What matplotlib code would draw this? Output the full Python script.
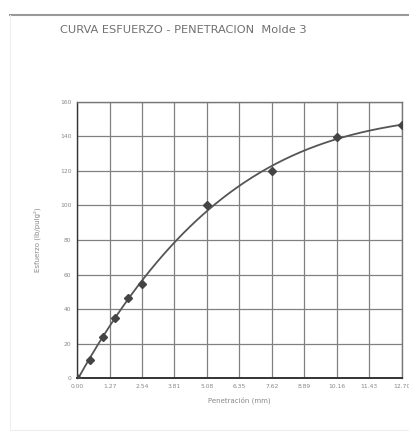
import numpy as np
import matplotlib.pyplot as plt
from matplotlib.lines import Line2D

# Data
penetracion = [0.0, 0.5, 1.0, 1.5, 2.0, 2.54, 5.08, 7.62, 10.16, 12.70]
esfuerzo = [0.0, 10.4, 23.8, 34.8, 46.4, 54.5, 100.3, 120.0, 139.7, 146.7]
x_ticks = [0.00, 1.27, 2.54, 3.81, 5.08, 6.35, 7.62, 8.89, 10.16, 11.43, 12.70]
y_ticks = [0, 20, 40, 60, 80, 100, 120, 140, 160]

fig = plt.figure(figsize=(4.10, 4.34), dpi=100)
ax = fig.add_axes([0.188, 0.129, 0.792, 0.636])

# Polynomial trend line through the points
coef = np.polyfit(penetracion, esfuerzo, 3)
xs = np.linspace(0, 12.70, 200)
ax.plot(xs, np.polyval(coef, xs), color="#555555", lw=1.3, zorder=3)
ax.plot(penetracion, esfuerzo, "D", color="#444444", ms=4, zorder=4)

ax.set_xlim(0, 12.70)
ax.set_ylim(0, 160)
ax.set_xticks(x_ticks)
ax.set_xticklabels([f"{t:.2f}" for t in x_ticks])
ax.set_yticks(y_ticks)
ax.tick_params(labelsize=4.3, colors="#888888", length=0, pad=4)
ax.grid(True, color="#808080", lw=0.9)
for s in ax.spines.values():
    s.set_color("#777777")
    s.set_linewidth(1.0)
ax.spines["left"].set_color("#333333")
ax.spines["bottom"].set_color("#333333")
ax.spines["bottom"].set_linewidth(1.4)

ax.set_xlabel("Penetración (mm)", fontsize=5, color="#888888", labelpad=6)
ax.set_ylabel("Esfuerzo (lb/pulg²)", fontsize=5, color="#888888", labelpad=14)

fig.text(0.146, 0.930, "CURVA ESFUERZO - PENETRACION  Molde 3", fontsize=8.2,
         color="#707070", va="center", ha="left")

# scan frame
fig.add_artist(Line2D([0.025, 1.0], [0.965, 0.965], color="#999999", lw=1.5))
fig.add_artist(Line2D([0.025, 0.025], [0.01, 0.965], color="#eeeeee", lw=0.8))
fig.add_artist(Line2D([0.025, 1.0], [0.01, 0.01], color="#eeeeee", lw=0.8))

fig.savefig("out.png", dpi=100)
